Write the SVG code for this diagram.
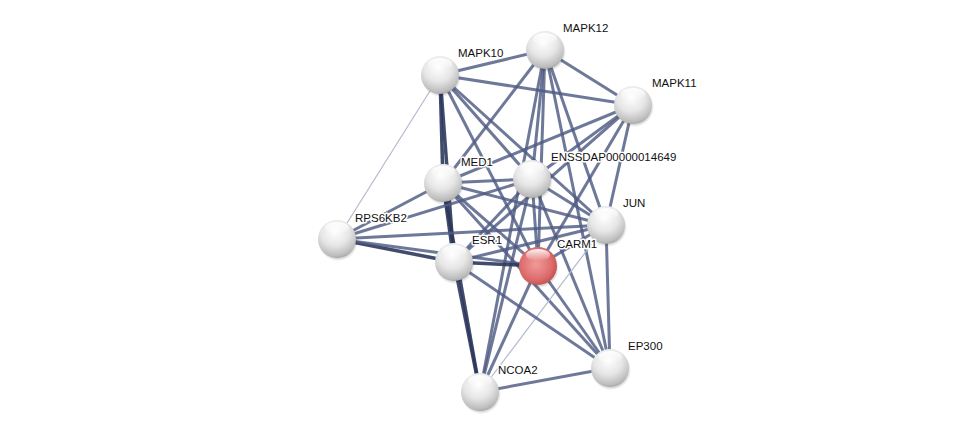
<svg xmlns="http://www.w3.org/2000/svg" width="975" height="437" viewBox="0 0 975 437">
<defs>
<radialGradient id="gw" cx="0.45" cy="0.3" r="0.75">
<stop offset="0" stop-color="#ffffff"/>
<stop offset="0.5" stop-color="#e6e6e6"/>
<stop offset="0.85" stop-color="#bdbdbd"/>
<stop offset="1" stop-color="#9a9a9a"/>
</radialGradient>
<radialGradient id="gr" cx="0.45" cy="0.45" r="0.7">
<stop offset="0" stop-color="#f29a9a"/>
<stop offset="0.6" stop-color="#dc6b6b"/>
<stop offset="1" stop-color="#b43c3c"/>
</radialGradient>
<linearGradient id="hl" x1="0" y1="0" x2="0" y2="1">
<stop offset="0" stop-color="#ffffff" stop-opacity="0.95"/>
<stop offset="1" stop-color="#ffffff" stop-opacity="0"/>
</linearGradient>
<radialGradient id="sh" cx="0.5" cy="0.5" r="0.5">
<stop offset="0.7" stop-color="#000" stop-opacity="0.35"/>
<stop offset="1" stop-color="#000" stop-opacity="0"/>
</radialGradient>
</defs>
<style>
.e{stroke:#4e5a82;stroke-opacity:0.82;stroke-width:3;fill:none}
.d{stroke:#2c375c;stroke-opacity:0.9;stroke-width:3.5;fill:none}
.t{stroke:#b4b9cc;stroke-width:1.2;fill:none}
.lb{font-family:"Liberation Sans",Arial,sans-serif;font-size:11.5px;fill:#111;paint-order:stroke;stroke:#fff;stroke-width:3px;stroke-linejoin:round}
</style>
<rect width="975" height="437" fill="#fff"/>
<g id="edges">
<line class="e" x1="440" y1="75" x2="545" y2="50"/>
<line class="e" x1="440" y1="75" x2="633" y2="105"/>
<line class="d" x1="440" y1="75" x2="443" y2="183"/>
<line class="t" x1="440" y1="75" x2="337" y2="239"/>
<line class="d" x1="440" y1="75" x2="454" y2="262"/>
<line class="e" x1="440" y1="75" x2="538" y2="266"/>
<line class="e" x1="440" y1="75" x2="606" y2="225"/>
<line class="e" x1="440" y1="75" x2="532" y2="179"/>
<line class="e" x1="545" y1="50" x2="633" y2="105"/>
<line class="e" x1="545" y1="50" x2="443" y2="183"/>
<line class="e" x1="545" y1="50" x2="532" y2="179"/>
<line class="e" x1="545" y1="50" x2="538" y2="266"/>
<line class="e" x1="545" y1="50" x2="606" y2="225"/>
<line class="e" x1="545" y1="50" x2="480" y2="392"/>
<line class="e" x1="545" y1="50" x2="610" y2="368"/>
<line class="e" x1="633" y1="105" x2="443" y2="183"/>
<line class="e" x1="633" y1="105" x2="532" y2="179"/>
<line class="e" x1="633" y1="105" x2="606" y2="225"/>
<line class="e" x1="633" y1="105" x2="538" y2="266"/>
<line class="e" x1="633" y1="105" x2="454" y2="262"/>
<line class="e" x1="443" y1="183" x2="532" y2="179"/>
<line class="e" x1="443" y1="183" x2="606" y2="225"/>
<line class="e" x1="443" y1="183" x2="337" y2="239"/>
<line class="d" x1="443" y1="183" x2="454" y2="262"/>
<line class="e" x1="443" y1="183" x2="538" y2="266"/>
<line class="e" x1="443" y1="183" x2="610" y2="368"/>
<line class="d" x1="443" y1="183" x2="480" y2="392"/>
<line class="e" x1="532" y1="179" x2="606" y2="225"/>
<line class="e" x1="532" y1="179" x2="337" y2="239"/>
<line class="e" x1="532" y1="179" x2="454" y2="262"/>
<line class="e" x1="532" y1="179" x2="538" y2="266"/>
<line class="e" x1="532" y1="179" x2="610" y2="368"/>
<line class="e" x1="532" y1="179" x2="480" y2="392"/>
<line class="e" x1="606" y1="225" x2="337" y2="239"/>
<line class="e" x1="606" y1="225" x2="454" y2="262"/>
<line class="e" x1="606" y1="225" x2="538" y2="266"/>
<line class="e" x1="606" y1="225" x2="610" y2="368"/>
<line class="t" x1="606" y1="225" x2="480" y2="392"/>
<line class="d" x1="337" y1="239" x2="454" y2="262"/>
<line class="e" x1="337" y1="239" x2="538" y2="266"/>
<line class="d" x1="454" y1="262" x2="538" y2="266"/>
<line class="e" x1="454" y1="262" x2="610" y2="368"/>
<line class="d" x1="454" y1="262" x2="480" y2="392"/>
<line class="e" x1="538" y1="266" x2="610" y2="368"/>
<line class="e" x1="538" y1="266" x2="480" y2="392"/>
<line class="e" x1="610" y1="368" x2="480" y2="392"/>
</g>
<g id="MAPK12"><circle cx="546" cy="52" r="20" fill="url(#sh)"/><circle cx="545" cy="50" r="19" fill="url(#gw)"/><ellipse cx="545" cy="39" rx="12" ry="6" fill="url(#hl)"/><text class="lb" x="563" y="32">MAPK12</text></g>
<g id="MAPK10"><circle cx="441" cy="77" r="20" fill="url(#sh)"/><circle cx="440" cy="75" r="19" fill="url(#gw)"/><ellipse cx="440" cy="64" rx="12" ry="6" fill="url(#hl)"/><text class="lb" x="458" y="57">MAPK10</text></g>
<g id="MAPK11"><circle cx="634" cy="107" r="20" fill="url(#sh)"/><circle cx="633" cy="105" r="19" fill="url(#gw)"/><ellipse cx="633" cy="94" rx="12" ry="6" fill="url(#hl)"/><text class="lb" x="652" y="87">MAPK11</text></g>
<g id="MED1"><circle cx="444" cy="185" r="20" fill="url(#sh)"/><circle cx="443" cy="183" r="19" fill="url(#gw)"/><ellipse cx="443" cy="172" rx="12" ry="6" fill="url(#hl)"/><text class="lb" x="461" y="166">MED1</text></g>
<g id="ENSSDAP00000014649"><circle cx="533" cy="181" r="20" fill="url(#sh)"/><circle cx="532" cy="179" r="19" fill="url(#gw)"/><ellipse cx="532" cy="168" rx="12" ry="6" fill="url(#hl)"/><text class="lb" x="551" y="161">ENSSDAP00000014649</text></g>
<g id="JUN"><circle cx="607" cy="227" r="20" fill="url(#sh)"/><circle cx="606" cy="225" r="19" fill="url(#gw)"/><ellipse cx="606" cy="214" rx="12" ry="6" fill="url(#hl)"/><text class="lb" x="623" y="207">JUN</text></g>
<g id="RPS6KB2"><circle cx="338" cy="241" r="20" fill="url(#sh)"/><circle cx="337" cy="239" r="19" fill="url(#gw)"/><ellipse cx="337" cy="228" rx="12" ry="6" fill="url(#hl)"/><text class="lb" x="355" y="222">RPS6KB2</text></g>
<g id="ESR1"><circle cx="455" cy="264" r="20" fill="url(#sh)"/><circle cx="454" cy="262" r="19" fill="url(#gw)"/><ellipse cx="454" cy="251" rx="12" ry="6" fill="url(#hl)"/><text class="lb" x="472" y="244">ESR1</text></g>
<g id="CARM1"><circle cx="539" cy="268" r="20" fill="url(#sh)"/><circle cx="538" cy="266" r="19" fill="url(#gr)"/><ellipse cx="538" cy="255" rx="12" ry="6" fill="url(#hl)"/><text class="lb" x="557" y="248">CARM1</text></g>
<g id="EP300"><circle cx="611" cy="370" r="20" fill="url(#sh)"/><circle cx="610" cy="368" r="19" fill="url(#gw)"/><ellipse cx="610" cy="357" rx="12" ry="6" fill="url(#hl)"/><text class="lb" x="628" y="350">EP300</text></g>
<g id="NCOA2"><circle cx="481" cy="394" r="20" fill="url(#sh)"/><circle cx="480" cy="392" r="19" fill="url(#gw)"/><ellipse cx="480" cy="381" rx="12" ry="6" fill="url(#hl)"/><text class="lb" x="498" y="374">NCOA2</text></g>
</svg>
